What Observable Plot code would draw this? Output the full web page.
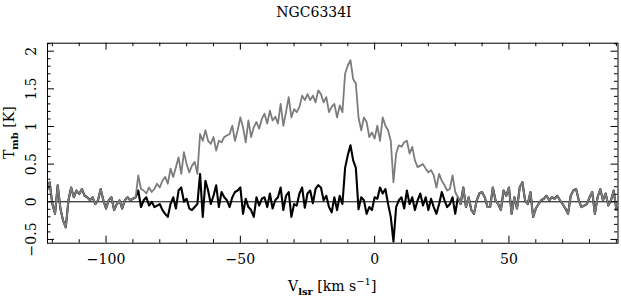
<!DOCTYPE html>
<html><head><meta charset="utf-8">
<script src="https://cdn.jsdelivr.net/npm/d3@7"></script>
<script src="https://cdn.jsdelivr.net/npm/@observablehq/plot@0.6"></script>
<style>body{margin:0;background:#fff}#chart svg{display:block}</style>
</head><body><div id="chart"></div>
<script>
const title = "NGC6334I";
// channel grid: first velocity and channel width (km/s)
const vStart = -122;
const vStep = 1;
// line-free wings: both spectra coincide (-122 .. -90 km/s)
const wingLeft = [0.15,0.26,-0.03,-0.16,0.22,-0.09,-0.25,-0.34,0.02,0.19,
  0.06,0.15,0.10,0.17,0.08,0.06,0.02,0.06,-0.03,0.02,
  0.17,0.02,-0.09,0.02,0.06,-0.11,-0.03,0.02,-0.09,0.02,
  0.06,0.02,0.04];
// observed spectrum, -89 .. 30 km/s
const grayCore = [0.06,0.35,0.17,0.15,0.11,0.19,0.13,0.17,0.24,0.19,
  0.28,0.33,0.24,0.44,0.33,0.46,0.59,0.37,0.66,0.50,
  0.39,0.48,0.53,0.37,0.90,0.81,0.95,0.81,0.77,0.86,
  0.68,0.81,0.79,0.86,0.88,0.90,1.01,0.81,0.95,1.12,
  0.99,0.79,1.08,0.86,0.99,1.06,0.97,1.10,1.17,1.04,
  1.21,1.08,1.13,1.04,1.30,1.01,1.19,1.39,1.12,1.23,
  1.19,1.26,1.41,1.35,1.43,1.35,1.41,1.32,1.48,1.43,
  1.32,1.39,1.19,1.26,1.30,1.12,1.28,1.19,1.70,1.81,
  1.88,1.63,1.57,1.12,0.95,1.12,1.06,0.86,0.92,0.84,
  1.01,0.81,1.12,1.01,0.95,0.81,0.26,0.64,0.75,0.73,
  0.79,0.81,0.64,0.73,0.55,0.46,0.48,0.50,0.44,0.39,
  0.42,0.35,0.19,0.37,0.28,0.22,0.15,0.17,0.35,0.13];
// residual spectrum, -89 .. 30 km/s
const blackCore = [0.06,0.15,-0.07,0.02,0.06,-0.05,0.00,-0.07,-0.05,-0.03,
  -0.11,-0.16,-0.20,-0.03,0.06,-0.09,0.15,0.19,0.00,0.04,
  -0.09,-0.11,-0.07,-0.03,0.37,-0.20,0.28,0.15,-0.03,0.08,
  0.22,-0.07,0.13,0.06,0.02,-0.07,0.06,0.13,0.15,0.19,
  -0.16,0.04,-0.07,-0.11,-0.20,0.06,-0.05,0.04,0.06,-0.07,
  0.11,-0.09,0.02,0.06,0.19,-0.11,0.08,0.13,-0.20,-0.03,
  -0.05,0.11,0.19,-0.08,0.11,0.15,-0.02,0.17,0.22,0.19,
  0.02,0.08,-0.07,-0.14,0.06,-0.11,0.08,-0.03,0.45,0.62,
  0.75,0.55,0.45,-0.10,0.06,0.02,-0.16,-0.07,-0.11,0.06,
  0.04,0.19,0.11,0.17,-0.03,-0.20,-0.53,-0.07,0.02,0.06,
  -0.09,0.15,-0.03,0.06,-0.11,0.02,0.11,-0.05,0.06,-0.11,
  0.04,-0.07,-0.16,-0.03,0.13,0.02,-0.07,-0.03,0.06,-0.16];
// line-free wings: both spectra coincide (31 .. 91 km/s)
const wingRight = [0.06,-0.03,0.19,-0.07,0.06,-0.11,-0.16,0.02,0.11,0.13,
  0.06,-0.07,-0.07,0.19,0.02,-0.03,-0.11,0.15,0.08,0.19,
  -0.16,0.06,-0.09,0.19,0.26,0.02,-0.03,0.13,-0.20,-0.09,
  -0.03,0.02,0.04,0.08,0.02,0.06,0.04,0.08,0.02,-0.03,
  -0.09,-0.16,0.08,0.15,0.17,0.02,-0.07,-0.05,-0.03,0.06,
  0.13,-0.16,0.06,0.17,0.02,0.11,-0.05,0.02,0.15,-0.11,
  -0.07];

const xMajor = [-100, -50, 0, 50];
const xMajorLabels = ["\u2212100", "\u221250", "0", "50"];
const xMinor = [-120,-110,-90,-80,-70,-60,-40,-30,-20,-10,10,20,30,40,60,70,80,90];
const yMajor = [-0.5, 0, 0.5, 1, 1.5, 2];
const yMajorLabels = ["\u22120.5", "0", "0.5", "1", "1.5", "2"];
const yMinor = [-0.4,-0.3,-0.2,-0.1,0.1,0.2,0.3,0.4,0.6,0.7,0.8,0.9,1.1,1.2,1.3,1.4,1.6,1.7,1.8,1.9,2.1];

const gray = [...wingLeft, ...grayCore, ...wingRight];
const black = [...wingLeft, ...blackCore, ...wingRight];
const rows = gray.map((g, i) => ({v: vStart + i * vStep, gray: g, black: black[i]}));

const W = 621, H = 300, mL = 47, mR = 3.5, mT = 42.7, mB = 57.3;
const fw = W - mL - mR, fh = H - mT - mB;
const minorLen = 3.5, majorLen = 7;

const chart = Plot.plot({
  width: W, height: H,
  marginLeft: mL, marginRight: mR, marginTop: mT, marginBottom: mB,
  x: {domain: [-121.8, 90.6], axis: null},
  y: {domain: [-0.55, 2.106], axis: null},
  style: {fontFamily: "'DejaVu Serif', serif", fontSize: "14px", background: "white", color: "black"},
  marks: [
    Plot.ruleY([0], {stroke: "black", strokeWidth: 1}),
    Plot.line(rows, {x: "v", y: "black", stroke: "black", strokeWidth: 2.1, clip: true}),
    Plot.line(rows, {x: "v", y: "gray", stroke: "#7c7c7c", strokeWidth: 1.8, clip: true}),
    Plot.frame({stroke: "black", strokeWidth: 1}),
    // inward ticks on all four sides
    Plot.tickX(xMinor, {x: d => d, insetTop: fh - minorLen, stroke: "black"}),
    Plot.tickX(xMinor, {x: d => d, insetBottom: fh - minorLen, stroke: "black"}),
    Plot.tickX(xMajor, {x: d => d, insetTop: fh - majorLen, stroke: "black"}),
    Plot.tickX(xMajor, {x: d => d, insetBottom: fh - majorLen, stroke: "black"}),
    Plot.tickY(yMinor, {y: d => d, insetRight: fw - minorLen, stroke: "black"}),
    Plot.tickY(yMinor, {y: d => d, insetLeft: fw - minorLen, stroke: "black"}),
    Plot.tickY(yMajor, {y: d => d, insetRight: fw - majorLen, stroke: "black"}),
    Plot.tickY(yMajor, {y: d => d, insetLeft: fw - majorLen, stroke: "black"}),
    // tick labels
    Plot.text(xMajor, {x: d => d, text: (d, i) => xMajorLabels[i], frameAnchor: "bottom", dy: 11, lineAnchor: "top", fill: "black"}),
    Plot.text(yMajor, {y: d => d, text: (d, i) => yMajorLabels[i], frameAnchor: "left", dx: -12, rotate: -90, textAnchor: "middle", lineAnchor: "bottom", fill: "black"})
  ]
});
document.getElementById("chart").appendChild(chart);

const svg = d3.select(chart);
const ff = "'DejaVu Serif', serif";
svg.append("text").attr("x", 314).attr("y", 17).attr("text-anchor", "middle")
  .attr("font-family", ff).attr("font-size", 14).attr("fill", "black").text(title);

const xl = svg.append("text").attr("x", mL + fw / 2).attr("y", 291).attr("text-anchor", "middle")
  .attr("font-family", ff).attr("font-size", 14).attr("fill", "black");
xl.append("tspan").text("V");
xl.append("tspan").attr("dy", 4).attr("font-size", 10).attr("font-weight", "bold").text("lsr");
xl.append("tspan").attr("dy", -4).text(" [km s");
xl.append("tspan").attr("dy", -6).attr("font-size", 10).text("\u22121");
xl.append("tspan").attr("dy", 6).text("]");

const yl = svg.append("text").attr("transform", `translate(14,${mT + fh / 2 - 10}) rotate(-90)`).attr("text-anchor", "middle")
  .attr("font-family", ff).attr("font-size", 14).attr("fill", "black");
yl.append("tspan").text("T");
yl.append("tspan").attr("dy", 4).attr("font-size", 10).attr("font-weight", "bold").text("mb");
yl.append("tspan").attr("dy", -4).text(" [K]");
</script>
</body></html>
